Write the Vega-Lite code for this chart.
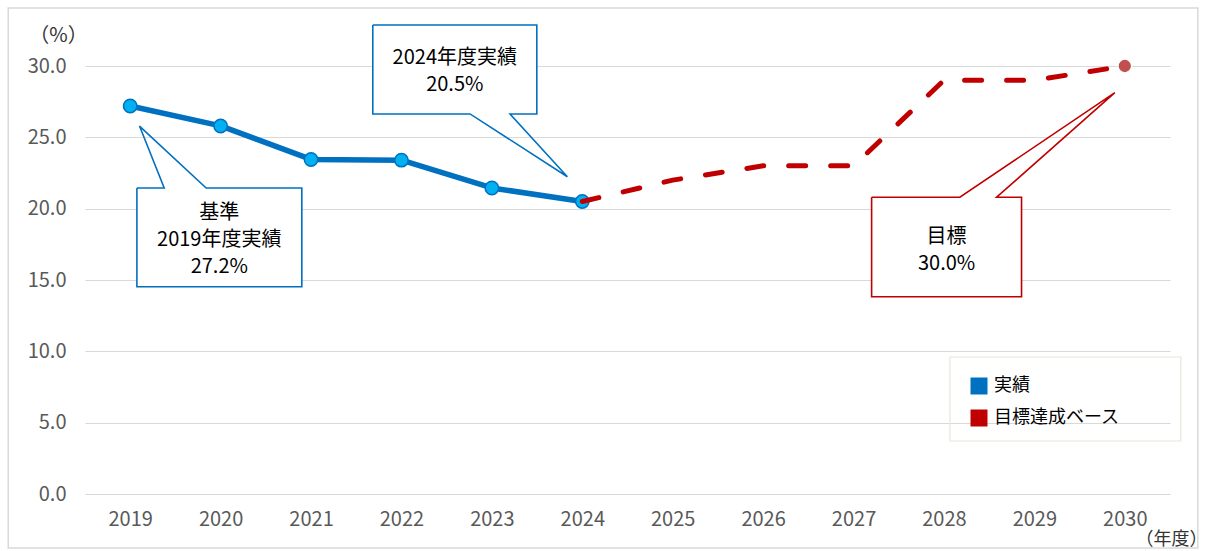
{
  "$schema": "https://vega.github.io/schema/vega-lite/v6.json",
  "width": 1085,
  "height": 428,
  "autosize": {"type": "none"},
  "padding": {"left": 85, "top": 66, "right": 36, "bottom": 57},
  "background": "white",
  "config": {"view": {"stroke": null}, "font": "Noto Sans CJK JP"},
  "datasets": {
    "main": [
      {"year": 2019, "value": 27.2, "series": "実績"},
      {"year": 2020, "value": 25.8, "series": "実績"},
      {"year": 2021, "value": 23.45, "series": "実績"},
      {"year": 2022, "value": 23.4, "series": "実績"},
      {"year": 2023, "value": 21.45, "series": "実績"},
      {"year": 2024, "value": 20.5, "series": "実績"},
      {"year": 2024, "value": 20.5, "series": "目標達成ベース"},
      {"year": 2025, "value": 22.0, "series": "目標達成ベース"},
      {"year": 2026, "value": 23.0, "series": "目標達成ベース"},
      {"year": 2027, "value": 23.0, "series": "目標達成ベース"},
      {"year": 2028, "value": 29.0, "series": "目標達成ベース"},
      {"year": 2029, "value": 29.0, "series": "目標達成ベース"},
      {"year": 2030, "value": 30.0, "series": "目標達成ベース"}
    ],
    "outline": [
      {"id": "a", "ord": 0, "year": 2019.074, "value": 21.45},
      {"id": "a", "ord": 1, "year": 2019.376, "value": 21.45},
      {"id": "a", "ord": 2, "year": 2019.103, "value": 25.79},
      {"id": "a", "ord": 3, "year": 2019.84, "value": 21.45},
      {"id": "a", "ord": 4, "year": 2020.898, "value": 21.45},
      {"id": "a", "ord": 5, "year": 2020.898, "value": 14.53},
      {"id": "a", "ord": 6, "year": 2019.074, "value": 14.53},
      {"id": "a", "ord": 7, "year": 2019.074, "value": 21.45},
      {"id": "b", "ord": 0, "year": 2021.683, "value": 32.87},
      {"id": "b", "ord": 1, "year": 2023.497, "value": 32.87},
      {"id": "b", "ord": 2, "year": 2023.497, "value": 26.64},
      {"id": "b", "ord": 3, "year": 2023.201, "value": 26.64},
      {"id": "b", "ord": 4, "year": 2023.835, "value": 22.24},
      {"id": "b", "ord": 5, "year": 2022.759, "value": 26.64},
      {"id": "b", "ord": 6, "year": 2021.683, "value": 26.64},
      {"id": "b", "ord": 7, "year": 2021.683, "value": 32.87},
      {"id": "c", "ord": 0, "year": 2027.2, "value": 20.8},
      {"id": "c", "ord": 1, "year": 2028.176, "value": 20.8},
      {"id": "c", "ord": 2, "year": 2029.89, "value": 28.13},
      {"id": "c", "ord": 3, "year": 2028.582, "value": 20.8},
      {"id": "c", "ord": 4, "year": 2028.858, "value": 20.8},
      {"id": "c", "ord": 5, "year": 2028.858, "value": 13.83},
      {"id": "c", "ord": 6, "year": 2027.2, "value": 13.83},
      {"id": "c", "ord": 7, "year": 2027.2, "value": 20.8}
    ],
    "box": [
      {"id": "a", "year": 2019.074, "year2": 2020.898, "value": 14.53, "value2": 21.45},
      {"id": "b", "year": 2021.683, "year2": 2023.497, "value": 26.64, "value2": 32.87},
      {"id": "c", "year": 2027.2, "year2": 2028.858, "value": 13.83, "value2": 20.8}
    ],
    "notes": [
      {"id": "a", "year": 2019.985, "value": 19.7, "label": "基準\n2019年度実績\n27.2%"},
      {"id": "b", "year": 2022.59, "value": 30.56, "label": "2024年度実績\n20.5%"},
      {"id": "c", "year": 2028.029, "value": 18.03, "label": "目標\n30.0%"}
    ],
    "frame": [
      {"year": 2017.651, "year2": 2030.808, "value": -3.785, "value2": 34.06}
    ],
    "legendbox": [
      {"year": 2028.066, "year2": 2030.62, "value": 3.715, "value2": 9.603}
    ]
  },
  "encoding": {
    "x": {
      "field": "year",
      "type": "quantitative",
      "scale": {"domain": [2018.5, 2030.5], "nice": false, "zero": false},
      "axis": {
        "values": [2019, 2020, 2021, 2022, 2023, 2024, 2025, 2026, 2027, 2028, 2029, 2030],
        "format": "d",
        "title": "（年度）",
        "titleX": 1086,
        "titleY": 45,
        "titleAlign": "center",
        "titleBaseline": "middle",
        "titleFontSize": 18,
        "titleFontWeight": "normal",
        "titleColor": "#333333",
        "labelFontSize": 20,
        "labelColor": "#595959",
        "labelBaseline": "middle",
        "labelPadding": 25,
        "domain": false,
        "ticks": false,
        "grid": false
      }
    },
    "y": {
      "field": "value",
      "type": "quantitative",
      "scale": {"domain": [0, 30], "nice": false},
      "axis": {
        "values": [0, 5, 10, 15, 20, 25, 30],
        "format": ".1f",
        "title": "（%）",
        "titleAngle": 0,
        "titleX": -27,
        "titleY": -31,
        "titleAlign": "center",
        "titleBaseline": "middle",
        "titleFontSize": 20,
        "titleFontWeight": "normal",
        "titleColor": "#333333",
        "labelFontSize": 20,
        "labelColor": "#595959",
        "labelPadding": 19,
        "domain": false,
        "ticks": false,
        "grid": true,
        "gridColor": "#d9d9d9",
        "gridWidth": 1.2
      }
    }
  },
  "layer": [
    {
      "data": {"name": "frame"},
      "mark": {"type": "rect", "fill": null, "fillOpacity": 0, "stroke": "#d9d9d9", "strokeWidth": 1.5},
      "encoding": {"x2": {"field": "year2"}, "y2": {"field": "value2"}}
    },
    {
      "data": {"name": "legendbox"},
      "mark": {"type": "rect", "fill": null, "fillOpacity": 0, "stroke": "#e8e8de", "strokeWidth": 1.2},
      "encoding": {"x2": {"field": "year2"}, "y2": {"field": "value2"}}
    },
    {
      "data": {"name": "main"},
      "transform": [{"filter": "datum.series === '実績'"}],
      "mark": {"type": "line", "strokeWidth": 5.5, "strokeJoin": "round"},
      "encoding": {
        "color": {
          "field": "series",
          "type": "nominal",
          "scale": {"domain": ["実績", "目標達成ベース"], "range": ["#0070C0", "#C00000"]},
          "legend": {
            "orient": "none",
            "legendX": 865,
            "legendY": 291,
            "direction": "vertical",
            "title": null,
            "symbolType": "square",
            "symbolSize": 289,
            "symbolStrokeWidth": 0,
            "labelFontSize": 18,
            "labelColor": "#000000",
            "labelOffset": 6,
            "rowPadding": 14,
            "padding": 20,
            "encode": {
              "symbols": {
                "update": {
                  "fill": {"scale": "color", "field": "value"},
                  "stroke": {"value": "transparent"},
                  "strokeWidth": {"value": 0}
                }
              }
            }
          }
        }
      }
    },
    {
      "data": {"name": "main"},
      "transform": [{"filter": "datum.series === '実績'"}],
      "mark": {"type": "point", "shape": "circle", "filled": true, "size": 180, "fill": "#00B0F0", "stroke": "#0070C0", "strokeWidth": 1.5, "opacity": 1}
    },
    {
      "data": {"name": "main"},
      "transform": [{"filter": "datum.series === '目標達成ベース'"}],
      "mark": {"type": "line", "strokeWidth": 5, "strokeCap": "round", "strokeDash": [17, 25]},
      "encoding": {
        "color": {"field": "series", "type": "nominal"}
      }
    },
    {
      "data": {"name": "main"},
      "transform": [{"filter": "datum.series === '目標達成ベース' && datum.year === 2030"}],
      "mark": {"type": "point", "shape": "circle", "filled": true, "size": 190, "fill": "#C0504D", "stroke": "white", "strokeWidth": 1.5, "opacity": 1}
    },
    {
      "data": {"name": "box"},
      "mark": {"type": "rect", "fill": "white"},
      "encoding": {"x2": {"field": "year2"}, "y2": {"field": "value2"}}
    },
    {
      "data": {"name": "outline"},
      "mark": {"type": "line", "strokeWidth": 1.6, "strokeJoin": "miter"},
      "encoding": {
        "order": {"field": "ord", "type": "quantitative"},
        "detail": {"field": "id", "type": "nominal"},
        "stroke": {
          "field": "id",
          "type": "nominal",
          "scale": {"domain": ["a", "b", "c"], "range": ["#0070C0", "#0070C0", "#C00000"]},
          "legend": null
        }
      }
    },
    {
      "data": {"name": "notes"},
      "mark": {"type": "text", "fontSize": 20, "align": "center", "baseline": "middle", "lineBreak": "\n", "lineHeight": 27, "color": "#000000"},
      "encoding": {"text": {"field": "label", "type": "nominal"}}
    }
  ]
}
